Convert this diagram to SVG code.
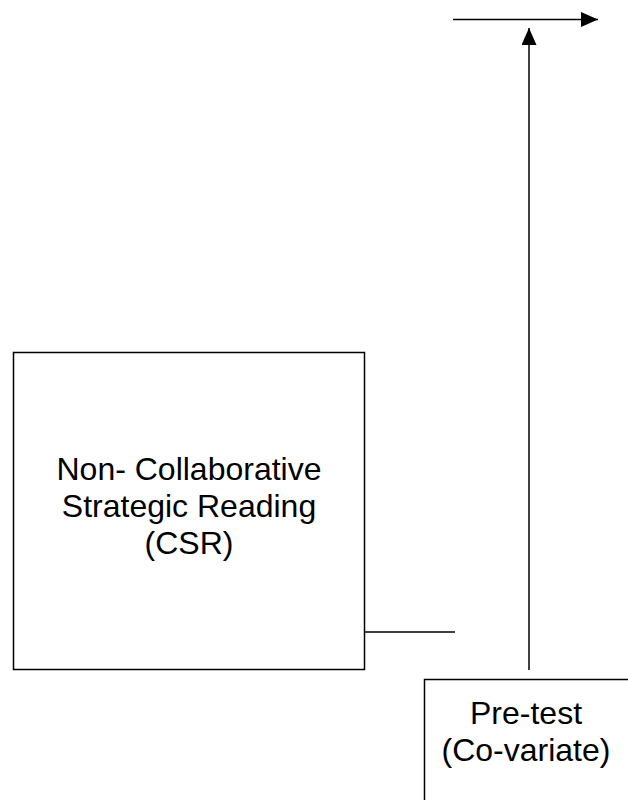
<svg xmlns="http://www.w3.org/2000/svg" width="628" height="800" viewBox="0 0 628 800">
<style>
.box{fill:#fff;stroke:#000;stroke-width:1.5}
.ln{stroke:#000;stroke-width:1.5;fill:none}
text{font-family:"Liberation Sans",Arial,sans-serif;font-size:32px;fill:#000;text-anchor:middle}
</style>
<defs>
<marker id="ah" viewBox="0 0 10 10" refX="10" refY="5" markerWidth="10" markerHeight="10" markerUnits="userSpaceOnUse" orient="auto"><path d="M0,0 L10,5 L0,10 z" fill="#000"/></marker>
<marker id="ah2" viewBox="0 0 10 10" refX="10" refY="5" markerWidth="17" markerHeight="15" markerUnits="userSpaceOnUse" orient="auto" preserveAspectRatio="none"><path d="M0,0 L10,5 L0,10 z" fill="#000"/></marker>
</defs>
<g id="connectors">
<line class="ln" x1="453" y1="19.5" x2="598" y2="19.5" marker-end="url(#ah2)"/>
<line class="ln" x1="529" y1="670" x2="529" y2="28" marker-end="url(#ah2)"/>
<line class="ln" x1="365" y1="632" x2="455" y2="632"/>
</g>
<g id="node-csr">
<rect class="box" x="13.5" y="352.5" width="351" height="317"/>
<text x="189" y="480">Non- Collaborative</text>
<text x="189" y="517">Strategic Reading</text>
<text x="189" y="554">(CSR)</text>
</g>
<g id="node-pretest">
<rect class="box" x="424.5" y="679.5" width="210" height="140"/>
<text x="526" y="724">Pre-test</text>
<text x="526" y="761">(Co-variate)</text>
</g>
</svg>
